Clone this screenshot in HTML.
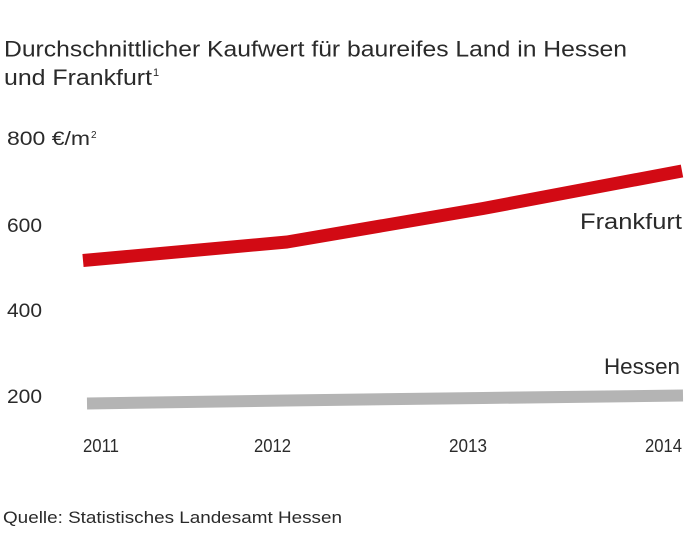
<!DOCTYPE html>
<html><head><meta charset="utf-8"><style>
html,body{margin:0;padding:0;background:#fff;}
svg{display:block;}
text{font-family:"Liberation Sans",sans-serif;fill:#2a2a2a;}
</style></head><body>
<svg width="690" height="550" viewBox="0 0 690 550" xmlns="http://www.w3.org/2000/svg">
<rect width="690" height="550" fill="#fff"/>
<text x="4" y="56.5" font-size="22" textLength="623" lengthAdjust="spacingAndGlyphs">Durchschnittlicher Kaufwert für baureifes Land in Hessen</text>
<text x="4" y="85" font-size="22" textLength="148" lengthAdjust="spacingAndGlyphs">und Frankfurt</text>
<text x="153" y="76" font-size="11">1</text>
<text x="7" y="145" font-size="19" textLength="83" lengthAdjust="spacingAndGlyphs">800 €/m</text>
<text x="91" y="138" font-size="10">2</text>
<text x="7" y="232" font-size="19" textLength="35" lengthAdjust="spacingAndGlyphs">600</text>
<text x="7" y="317" font-size="19" textLength="35" lengthAdjust="spacingAndGlyphs">400</text>
<text x="7" y="403" font-size="19" textLength="35" lengthAdjust="spacingAndGlyphs">200</text>
<polyline points="83,260.5 287,242 483,208.5 682,171" fill="none" stroke="#d20a14" stroke-width="13" stroke-linejoin="round"/>
<polyline points="87,403.5 287,400.5 483,398 683,395.5" fill="none" stroke="#b4b4b4" stroke-width="12" stroke-linejoin="round"/>
<text x="580" y="229" font-size="22" textLength="102" lengthAdjust="spacingAndGlyphs">Frankfurt</text>
<text x="604" y="374" font-size="22" textLength="76" lengthAdjust="spacingAndGlyphs">Hessen</text>
<text x="83" y="452" font-size="18" textLength="36" lengthAdjust="spacingAndGlyphs">2011</text>
<text x="254" y="452" font-size="18" textLength="37" lengthAdjust="spacingAndGlyphs">2012</text>
<text x="449" y="452" font-size="18" textLength="38" lengthAdjust="spacingAndGlyphs">2013</text>
<text x="645" y="452" font-size="18" textLength="37" lengthAdjust="spacingAndGlyphs">2014</text>
<text x="3" y="523" font-size="17" textLength="339" lengthAdjust="spacingAndGlyphs">Quelle: Statistisches Landesamt Hessen</text>
</svg>
</body></html>
